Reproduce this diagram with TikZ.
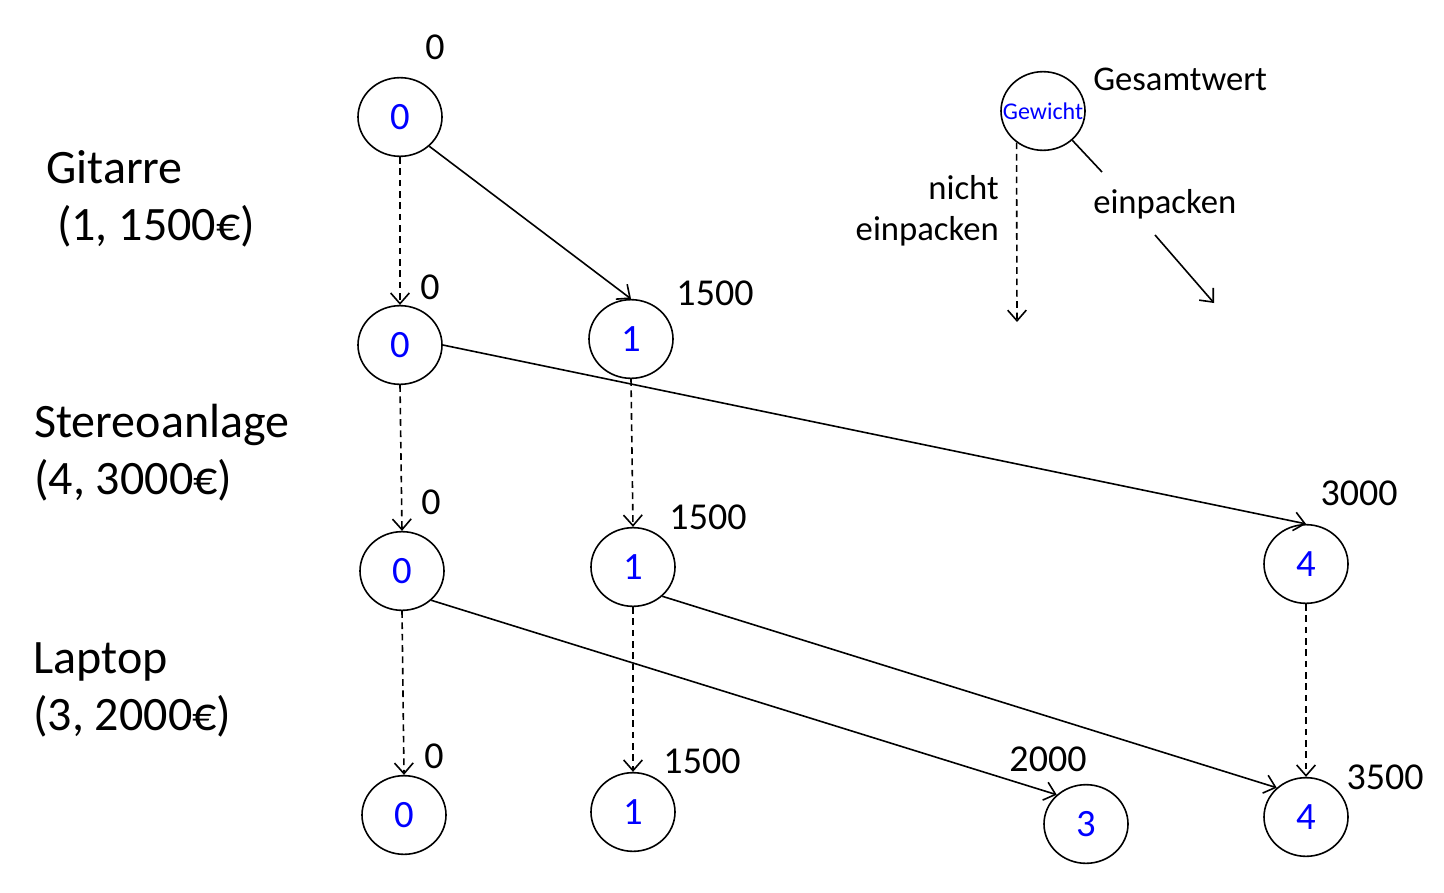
\documentclass[tikz,border=0pt]{standalone}
\usepackage{fontspec}
\setmainfont{Carlito}
\usetikzlibrary{shapes.geometric,arrows.meta}

\tikzset{
  state/.style={ellipse, draw, line width=1.2pt, minimum width=63pt, minimum height=59pt,
    inner sep=0pt, text=blue, font=\fontsize{29}{32}\selectfont},
  value/.style={inner sep=0pt, font=\fontsize{28.5}{32}\selectfont},
  word/.style={inner sep=0pt, font=\fontsize{26}{30}\selectfont},
  item/.style={inner sep=0pt, anchor=base west, align=left,
    font=\fontsize{36}{43.5}\selectfont},
  take/.style={line width=1.2pt, -{Straight Barb[length=8pt,width=14pt,line width=1.2pt]}},
  skip/.style={take, dash pattern=on 5pt off 3.5pt},
}

\begin{document}
\begin{tikzpicture}[x=0.75pt, y=-0.75pt]
  \useasboundingbox (0,0) rectangle (1444,892);

  % items with (weight, value)
  \node[item] (gitarre) at (46,240) {Gitarre\\[-1pt]\ (1, 1500€)};
  \node[item] (stereo) at (34,494) {Stereoanlage\\[-1pt](4, 3000€)};
  \node[item] (laptop) at (33,730) {Laptop\\[-1pt](3, 2000€)};

  % states: weight inside, total value beside
  \node[state] (a)  at (400,117) {0};
  \node[state] (b0) at (400,345) {0};
  \node[state] (b1) at (631,339) {1};
  \node[state] (c0) at (402,571) {0};
  \node[state] (c1) at (633,567) {1};
  \node[state] (c4) at (1306,564) {4};
  \node[state] (d0) at (404,815) {0};
  \node[state] (d1) at (633,812) {1};
  \node[state] (d3) at (1086,824) {3};
  \node[state] (d4) at (1306,817) {4};

  \node[value] (va)  at (435,47)  {0};
  \node[value] (vb0) at (430,287) {0};
  \node[value] (vb1) at (715,293) {1500};
  \node[value] (vc0) at (431,502) {0};
  \node[value] (vc1) at (708,517) {1500};
  \node[value] (vc4) at (1359,493) {3000};
  \node[value] (vd0) at (434,756) {0};
  \node[value] (vd1) at (702,761) {1500};
  \node[value] (vd3) at (1048,759) {2000};
  \node[value] (vd4) at (1385,777) {3500};

  % not packed: dashed, packed: solid
  \draw[skip] (a.south) -- (b0.north);
  \draw[take] (a.-45) -- (b1.north);
  \draw[skip] (b0.south) -- (c0.north);
  \draw[take] (b0.east) -- (c4.north);
  \draw[skip] (b1.south) -- (c1.north);
  \draw[skip] (c0.south) -- (d0.north);
  \draw[take] (c0.-45) -- (d3.135);
  \draw[skip] (c1.south) -- (d1.north);
  \draw[take] (c1.-45) -- (d4.135);
  \draw[skip] (c4.south) -- (d4.north);

  % legend
  \node[state, inner xsep=-8pt, font=\fontsize{18}{20}\selectfont] (key) at (1043,111) {Gewicht};
  \node[word, anchor=west] (total) at (1093,79) {Gesamtwert};
  \node[word, anchor=east] (nicht) at (999,188) {nicht};
  \node[word, anchor=east] (nein) at (999,231) {einpacken};
  \node[word, anchor=west] (ja) at (1093,204) {einpacken};
  \coordinate (skipend) at (1017,322);
  \coordinate (takemid) at (1102,172);
  \coordinate (takestart) at (1155,235);
  \coordinate (takeend) at (1214,303);
  \draw[skip] (key.-130) -- (skipend);
  \draw[line width=1.2pt] (key.-45) -- (takemid);
  \draw[take] (takestart) -- (takeend);
\end{tikzpicture}
\end{document}
